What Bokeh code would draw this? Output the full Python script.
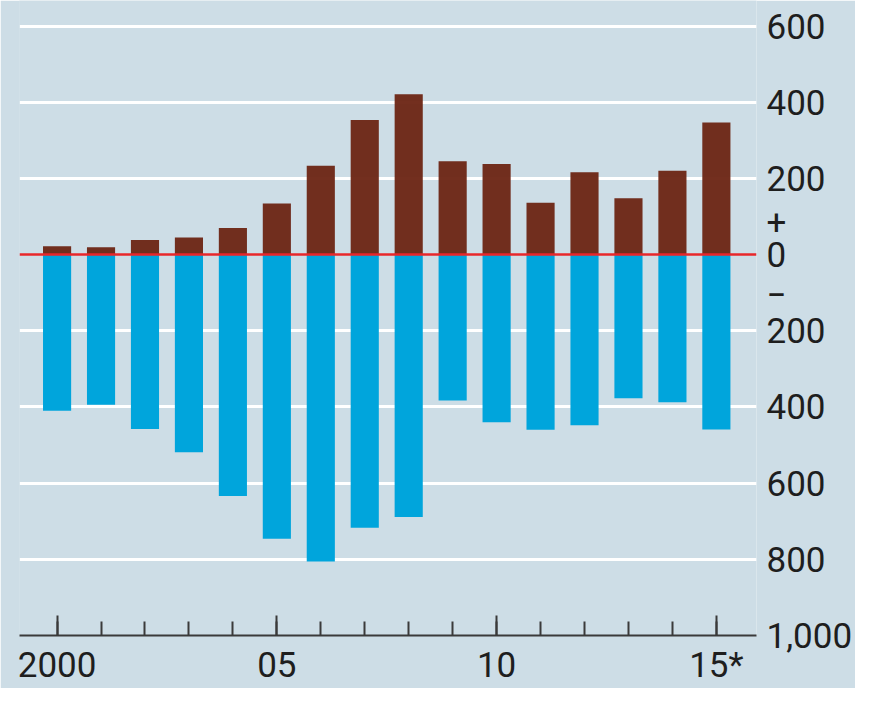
from bokeh.plotting import figure
from bokeh.models import FixedTicker, LinearAxis, Span, BoxAnnotation, Range1d
from bokeh.embed import file_html
from bokeh.resources import INLINE

# ---- data ----
years = list(range(2000, 2016))
inflow = [22, 19, 38, 45, 70, 134, 233, 353, 421, 245, 238, 136, 216, 148, 220, 347]
outflow = [-410, -394, -458, -519, -634, -746, -806, -717, -689, -383, -440, -460, -448, -377, -388, -459]
x_tick_years = [2000, 2005, 2010, 2015]
x_tick_labels = ["2000", "05", "10", "15*"]
y_tick_values = [600, 400, 200, 87, 0, -104, -200, -400, -600, -800, -1000]
y_tick_labels = ["600", "400", "200", "+", "0", "\u2212", "200", "400", "600", "800", "1,000"]
grid_values = [600, 400, 200, -200, -400, -600, -800]

BG = "#cddde6"
STRIP = "#b8cfdc"
BROWN = "#6c2413"
BLUE = "#00a5dc"
RED = "#e8262a"
TEXT = "#1e1e1e"
AXIS = "#3a3a3a"
FONT = "Roboto"

p = figure(width=855, height=688, output_backend="svg", toolbar_location=None,
           x_range=Range1d(1999.145, 2015.913), y_range=Range1d(-1000, 667),
           min_border_left=19, min_border_right=97, min_border_top=0, min_border_bottom=50,
           background_fill_color=BG, border_fill_color=BG, outline_line_color=None,
           y_axis_location=None)

# grid
p.xgrid.visible = False
p.ygrid.ticker = FixedTicker(ticks=grid_values)
p.ygrid.grid_line_color = "white"
p.ygrid.grid_line_width = 3

# bars
p.vbar(x=years, bottom=0, top=inflow, width=0.64, fill_color=BROWN, line_color=None, fill_alpha=0.95)
p.vbar(x=years, bottom=outflow, top=0, width=0.64, fill_color=BLUE, line_color=None)

# zero line
p.add_layout(Span(location=0, dimension="width", line_color=RED, line_width=2.5))

# x axis
xa = p.xaxis[0]
xa.ticker = FixedTicker(ticks=x_tick_years, minor_ticks=years)
xa.major_label_overrides = {y: l for y, l in zip(x_tick_years, x_tick_labels)}
xa.major_tick_in = 20
xa.major_tick_out = 0
xa.minor_tick_in = 14
xa.minor_tick_out = 0
xa.axis_line_color = AXIS
xa.axis_line_width = 2
xa.major_tick_line_color = AXIS
xa.major_tick_line_width = 2
xa.minor_tick_line_color = AXIS
xa.minor_tick_line_width = 2
xa.major_label_text_font = FONT
xa.major_label_text_font_size = "35px"
xa.major_label_text_color = TEXT
xa.major_label_standoff = 9

# y axis on the right
ya = LinearAxis(ticker=FixedTicker(ticks=y_tick_values))
ya.major_label_overrides = {v: l for v, l in zip(y_tick_values, y_tick_labels)}
ya.major_tick_in = 0
ya.major_tick_out = 0
ya.minor_tick_in = 0
ya.minor_tick_out = 0
ya.axis_line_color = None
ya.major_label_text_font = FONT
ya.major_label_text_font_size = "35px"
ya.major_label_text_color = TEXT
ya.major_label_standoff = 10
p.add_layout(ya, "right")

# darker left strip
p.add_layout(BoxAnnotation(left=0, right=19, top=0, bottom=688,
                           left_units="canvas", right_units="canvas",
                           top_units="canvas", bottom_units="canvas",
                           fill_color=STRIP, fill_alpha=1, line_color=None, level="underlay"))

open("out.html", "w").write(file_html(p, INLINE))
